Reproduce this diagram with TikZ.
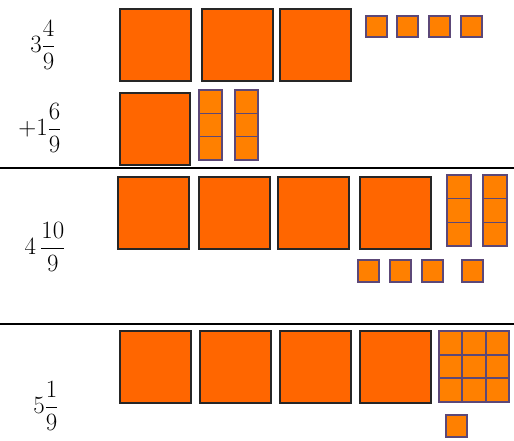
\documentclass[tikz,border=0pt]{standalone}
\usepackage{amsmath}
\usepackage{tikz}
\usetikzlibrary{positioning}
\definecolor{flatorange}{RGB}{255,102,0}
\definecolor{pieceorange}{RGB}{255,128,0}
\definecolor{pieceedge}{RGB}{92,72,120}

\begin{document}
\begin{tikzpicture}[x=1pt, y=-1pt,
    flat/.style={draw=black!85, fill=flatorange, line width=1.3pt},
    piece/.style={draw=pieceedge, fill=pieceorange, line width=1.2pt},
    num/.style={font=\fontsize{26}{30}\selectfont, inner sep=0pt},
    rule/.style={line width=2.8pt}
]
    \useasboundingbox (0,0) rectangle (514,440);

    % first addend: 3 4/9
    \node[num] (a) at (43,45) {$3\dfrac{4}{9}$};
    \foreach \x in {120,202,280} \draw[flat] (\x,9) rectangle ++(71,72);
    \foreach \x in {366,397,429,461} \draw[piece] (\x,16) rectangle ++(21,21);

    % second addend: 1 6/9
    \node[num] (b) at (40,128) {$+1\dfrac{6}{9}$};
    \draw[flat] (120,93) rectangle (190,165);
    \foreach \x in {199,235} {
        \draw[piece] (\x,90) rectangle ++(23,70);
        \draw[pieceedge, line width=1.2pt] (\x,113.3) -- ++(23,0) (\x,136.7) -- ++(23,0);
    }

    \draw[rule] (0,168) -- (514,168);

    % sum: 4 10/9
    \node[num] (c) at (45,247) {$4\,\dfrac{10}{9}$};
    \foreach \x in {118,199,278,360} \draw[flat] (\x,177) rectangle ++(71,72);
    \foreach \x in {447,483} {
        \draw[piece] (\x,175) rectangle ++(24,71);
        \draw[pieceedge, line width=1.2pt] (\x,198.7) -- ++(24,0) (\x,222.3) -- ++(24,0);
    }
    \foreach \x in {358,390,422,462} \draw[piece] (\x,260) rectangle ++(21,22);

    \draw[rule] (0,324) -- (514,324);

    % regrouped: 5 1/9
    \node[num] (d) at (46,406) {$5\dfrac{1}{9}$};
    \foreach \x in {120,200,280,360} \draw[flat] (\x,331) rectangle ++(71,72);
    \draw[piece] (439,331) rectangle (509,402);
    \draw[pieceedge, line width=1.8pt] (462.3,331) -- (462.3,402) (485.7,331) -- (485.7,402)
        (439,354.7) -- (509,354.7) (439,378.3) -- (509,378.3);
    \draw[piece] (446,415) rectangle ++(21,22);
\end{tikzpicture}
\end{document}
